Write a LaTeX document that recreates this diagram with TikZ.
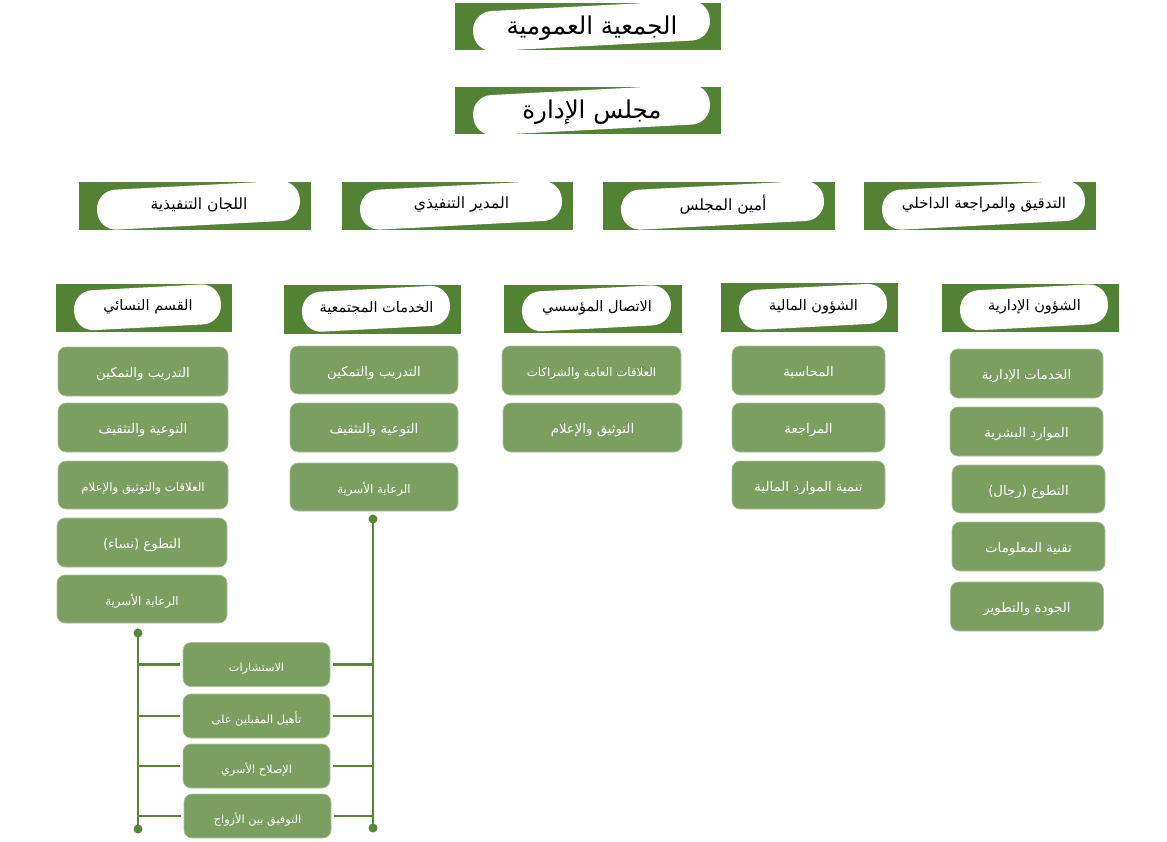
\documentclass[tikz,border=0pt]{standalone}
\usepackage{fontspec}
\TeXXeTstate=1
\newfontfamily\arabicfont[Script=Arabic]{DejaVu Sans}
\newcommand\artxt[1]{\arabicfont #1}
\definecolor{hdrgreen}{RGB}{84,130,53}
\definecolor{boxgreen}{RGB}{122,159,96}
\definecolor{linegreen}{RGB}{86,134,56}
\tikzset{
  hdrrect/.style={fill=hdrgreen, inner sep=0pt, outer sep=0pt},
  hdrtext/.style={inner sep=0pt, text=black},
  sbox/.style={fill=boxgreen, draw=boxgreen!65!white, line width=0.6pt, rounded corners=8pt,
     text=white, inner sep=0pt, font=\fontsize{13.3}{16}\selectfont,
     text height=1.3em, text depth=0.1em},
  small/.style={font=\fontsize{11.8}{14}\selectfont},
  fbox/.style={sbox, minimum width=147pt, minimum height=44pt, font=\fontsize{11.3}{13}\selectfont,
     text height=1.55em, text depth=0.1em},
  conn/.style={draw=linegreen, line width=2.4pt},
  dot/.style={fill=linegreen}
}
% name, cx, cy, w, h, fontsize, text, text y offset (down positive)
\newcommand\hdrbox[8]{%
  \node[hdrrect, minimum width=#4pt, minimum height=#5pt] (#1) at (#2,#3) {};
  \begin{scope}
    \clip (#1.south west) rectangle (#1.north east);
    \begin{scope}[shift={(#2,#3-0.5)}, rotate=3]
      \fill[white, rounded corners=19pt] ({-#4/2+18}, -20) rectangle ({#4/2-11}, 20);
    \end{scope}
  \end{scope}
  \node[hdrtext, font=\fontsize{#6}{#6}\selectfont] (#1-t) at ([xshift=4pt, yshift=-#8pt]#1.center) {\artxt{#7}};
}
\begin{document}
\begin{tikzpicture}[x=1pt, y=-1pt]
\useasboundingbox[fill=white] (0,0) rectangle (1167,842);

% top
\hdrbox{ga}{588}{26.5}{266}{47}{24.5}{\beginR الجمعية العمومية\endR}{1.5}
\hdrbox{bd}{588}{110.5}{266}{47}{24.5}{\beginR مجلس الإدارة\endR}{1.5}

% row 2
\hdrbox{r1}{195}{206}{232}{48}{15.5}{\beginR اللجان التنفيذية\endR}{-1}
\hdrbox{r2}{457.5}{206}{231}{48}{15.5}{\beginR المدير التنفيذي\endR}{-1}
\hdrbox{r3}{719}{206}{232}{48}{15.5}{\beginR أمين المجلس\endR}{-1}
\hdrbox{r4}{980}{206}{232}{48}{15}{\beginR التدقيق والمراجعة الداخلي\endR}{-1}

% row 3 headers
\hdrbox{h1}{144}{308}{176}{48}{14.5}{\beginR القسم النسائي\endR}{-1}
\hdrbox{h2}{372.5}{309.5}{177}{48}{14.5}{\beginR الخدمات المجتمعية\endR}{-1}
\hdrbox{h3}{593}{309}{178}{48}{14.5}{\beginR الاتصال المؤسسي\endR}{-1}
\hdrbox{h4}{809.5}{307.5}{177}{48}{14.5}{\beginR الشؤون المالية\endR}{-1}
\hdrbox{h5}{1030.5}{308}{177}{48}{14.5}{\beginR الشؤون الإدارية\endR}{-1}

% column 1
\node[sbox, minimum width=170pt, minimum height=49pt] (c1a) at (143,371.5) {\artxt{\beginR التدريب والتمكين\endR}};
\node[sbox, minimum width=170pt, minimum height=49pt] (c1b) at (143,427.5) {\artxt{\beginR التوعية والتثقيف\endR}};
\node[sbox, small, minimum width=170pt, minimum height=48pt] (c1c) at (143,485) {\artxt{\beginR العلاقات والتوثيق والإعلام\endR}};
\node[sbox, minimum width=170pt, minimum height=49pt] (c1d) at (142,542.5) {\artxt{\beginR التطوع (نساء)\endR}};
\node[sbox, small, minimum width=170pt, minimum height=48pt] (c1e) at (142,599) {\artxt{\beginR الرعاية الأسرية\endR}};

% column 2
\node[sbox, minimum width=168pt, minimum height=48pt] (c2a) at (374,370) {\artxt{\beginR التدريب والتمكين\endR}};
\node[sbox, minimum width=168pt, minimum height=49pt] (c2b) at (374,427.5) {\artxt{\beginR التوعية والتثقيف\endR}};
\node[sbox, small, minimum width=168pt, minimum height=48pt] (c2c) at (374,487) {\artxt{\beginR الرعاية الأسرية\endR}};

% column 3
\node[sbox, small, minimum width=179pt, minimum height=49pt] (c3a) at (591.5,370.5) {\artxt{\beginR العلاقات العامة والشراكات\endR}};
\node[sbox, minimum width=179pt, minimum height=49pt] (c3b) at (592.5,427.5) {\artxt{\beginR التوثيق والإعلام\endR}};

% column 4
\node[sbox, minimum width=153pt, minimum height=49pt] (c4a) at (808.5,370.5) {\artxt{المحاسبة}};
\node[sbox, minimum width=153pt, minimum height=49pt] (c4b) at (808.5,427.5) {\artxt{المراجعة}};
\node[sbox, minimum width=153pt, minimum height=48pt] (c4c) at (808.5,485) {\artxt{\beginR تنمية الموارد المالية\endR}};

% column 5
\node[sbox, minimum width=153pt, minimum height=49pt] (c5a) at (1026.5,373.5) {\artxt{\beginR الخدمات الإدارية\endR}};
\node[sbox, minimum width=153pt, minimum height=49pt] (c5b) at (1026.5,431.5) {\artxt{\beginR الموارد البشرية\endR}};
\node[sbox, minimum width=153pt, minimum height=48pt] (c5c) at (1028.5,489) {\artxt{\beginR التطوع (رجال)\endR}};
\node[sbox, minimum width=153pt, minimum height=49pt] (c5d) at (1028.5,546.5) {\artxt{\beginR تقنية المعلومات\endR}};
\node[sbox, minimum width=153pt, minimum height=49pt] (c5e) at (1027,606.5) {\artxt{\beginR الجودة والتطوير\endR}};

% family services
\node[fbox] (f1) at (256.5,664.5) {\artxt{الاستشارات}};
\node[fbox] (f2) at (256.5,716) {\artxt{\beginR تأهيل المقبلين على\endR}};
\node[fbox] (f3) at (256.5,766) {\artxt{\beginR الإصلاح الأسري\endR}};
\node[fbox] (f4) at (257.5,816) {\artxt{\beginR التوفيق بين الأزواج\endR}};

% connectors
\coordinate (lt) at (138,633);
\coordinate (lb) at (138,829);
\coordinate (rt) at (373,519);
\coordinate (rb) at (373,828);
\draw[conn] (lt) -- (lb);
\draw[conn] (rt) -- (rb);
\foreach \n in {f1,f2,f3,f4}{
  \draw[conn] ([xshift=-3pt]\n.west) -- (\n.west -| lt);
  \draw[conn] ([xshift=3pt]\n.east) -- (\n.east -| rt);
}
\foreach \c in {lt,lb,rt,rb}{\fill[dot] (\c) circle (4.5pt);}
\end{tikzpicture}
\end{document}
